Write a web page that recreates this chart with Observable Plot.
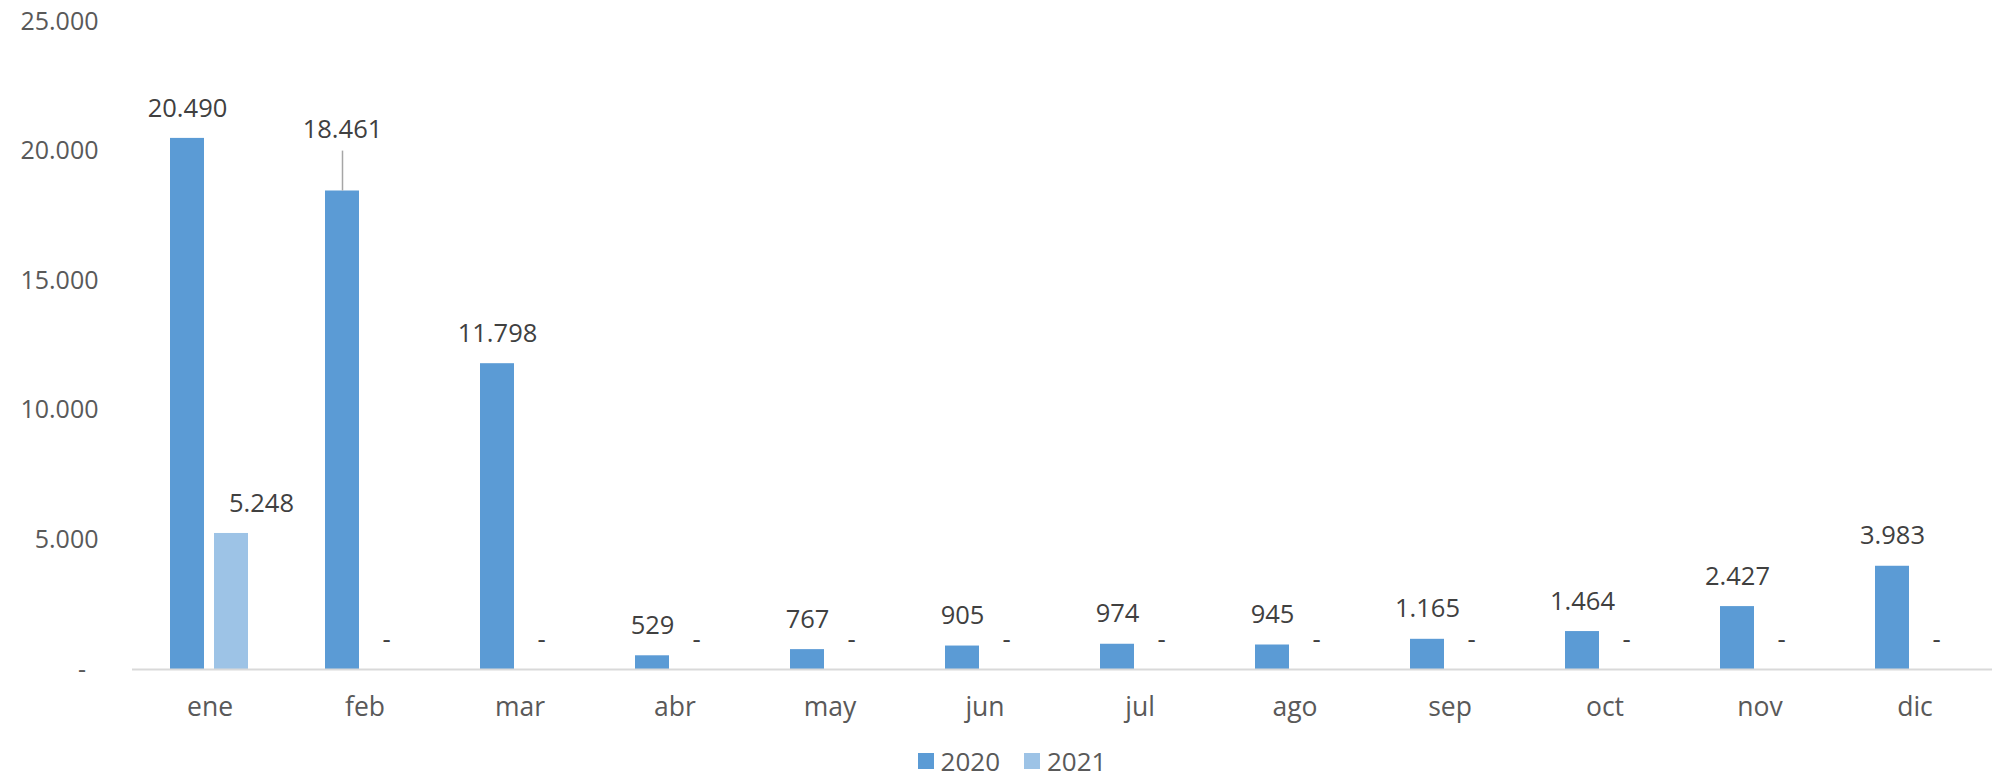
<!DOCTYPE html>
<html><head><meta charset="utf-8">
<script src="https://cdn.jsdelivr.net/npm/d3@7"></script>
<script src="https://cdn.jsdelivr.net/npm/@observablehq/plot@0.6"></script>
<style>
body{margin:0;background:#fff;font-family:"Open Sans",sans-serif;overflow:hidden;}
#legend{display:flex;justify-content:center;align-items:center;height:34px;padding-top:4px;padding-left:24px;font-size:26px;line-height:26px;color:#595959;}
.item{display:flex;align-items:center;margin:0 12px;}
.sw{width:16px;height:16px;margin-right:7px;display:inline-block;}
</style></head><body><div id="chart"></div><div id="legend"></div>
<script>
const months = ["ene","feb","mar","abr","may","jun","jul","ago","sep","oct","nov","dic"];
const years = ["2020","2021"];
const values2020 = [20490,18461,11798,529,767,905,974,945,1165,1464,2427,3983];
const values2021 = [5248,0,0,0,0,0,0,0,0,0,0,0];
const yTicks = [0,5000,10000,15000,20000,25000];
const leaderMonths = ["feb"];
const leaderTop = 20000;
const shiftedMonths2021 = ["ene"];
const colors = ["#5B9BD5","#9DC3E6"];

const data = months.flatMap((m,i)=>[
  {month:m,year:"2020",value:values2020[i]},
  {month:m,year:"2021",value:values2021[i]}
]);
const fmt = v => v===0 ? "-" : d3.format(",")(v).replace(/,/g,".");
const isLeader = d => d.year==="2020" && leaderMonths.includes(d.month);
const isShifted = d => d.year==="2021" && shiftedMonths2021.includes(d.month);
const normal = data.filter(d=>!isLeader(d) && !isShifted(d));
const leader = data.filter(isLeader);
const shifted = data.filter(isShifted);

const chart = Plot.plot({
  width:2000, height:740,
  marginLeft:131, marginRight:7, marginTop:21, marginBottom:71,
  style:{fontFamily:"Open Sans", fontSize:"25px", background:"#fff", display:"block"},
  fx:{domain:months, padding:0, label:null, axis:null},
  x:{domain:years, paddingInner:0.225, paddingOuter:0.856, axis:null},
  y:{domain:[0,25000], axis:null},
  color:{domain:years, range:colors},
  marks:[
    Plot.barY(data,{fx:"month", x:"year", y:"value", fill:"year"}),
    Plot.ruleY([0],{stroke:"#d9d9d9", strokeWidth:2}),
    Plot.text(normal,{fx:"month", x:"year", y:"value", text:d=>fmt(d.value), dy:-30, fill:"#404040", fontSize:25.5}),
    Plot.text(shifted,{fx:"month", x:"year", y:"value", text:d=>fmt(d.value), dy:-30, dx:30, fill:"#404040", fontSize:25.5}),
    Plot.ruleX(leader,{fx:"month", x:"year", y1:"value", y2:()=>leaderTop, stroke:"#a6a6a6", strokeWidth:1.5}),
    Plot.text(leader,{fx:"month", x:"year", y:()=>leaderTop, text:d=>fmt(d.value), dy:-21, fill:"#404040", fontSize:25.5}),
    Plot.axisY({ticks:yTicks, tickSize:0, tickPadding:34, fontSize:25, fill:"#595959",
      tickFormat:d=> d===0 ? "-\u2002" : fmt(d), label:null}),
    Plot.axisFx({anchor:"bottom", tickSize:0, tickPadding:28, fontSize:26.5, fill:"#595959", label:null})
  ]
});
document.getElementById("chart").append(chart);
const lg = document.getElementById("legend");
years.forEach((y,i)=>{
  const it = document.createElement("div"); it.className="item";
  const sw = document.createElement("span"); sw.className="sw"; sw.style.background=colors[i];
  it.append(sw, document.createTextNode(y)); lg.append(it);
});
</script></body></html>
